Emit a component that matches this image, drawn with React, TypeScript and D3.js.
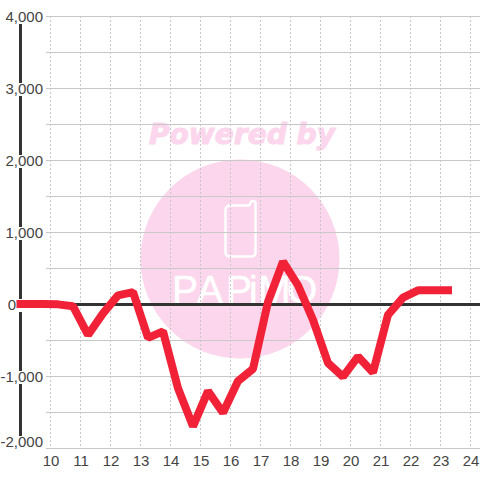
import React from "react";
import * as d3 from "d3";

const hours = [9, 9.25, 9.75, 10.25, 10.75, 11.25, 11.75, 12.25, 12.75, 13.25, 13.75, 14.25, 14.75, 15.25, 15.75, 16.25, 16.75, 17.25, 17.75, 18.25, 18.75, 19.25, 19.75, 20.25, 20.75, 21.25, 21.75, 22.25, 22.75, 23.25];
const values = [0, 0, 0, -5, -30, -430, -130, 120, 165, -470, -380, -1170, -1700, -1210, -1510, -1070, -900, 30, 590, 260, -220, -820, -1010, -730, -950, -150, 90, 190, 190, 190];
const xTicks = [10, 11, 12, 13, 14, 15, 16, 17, 18, 19, 20, 21, 22, 23, 24];
const yLabels = [4000, 3000, 2000, 1000, 0, -1000, -2000];
const yGrid = [4000, 3500, 3000, 2500, 2000, 1500, 1000, 500, -500, -1000, -1500, -2000];

const x = d3.scaleLinear().domain([10, 24]).range([50.5, 470.5]);
const y = d3.scaleLinear().domain([-2000, 4000]).range([448, 16]);

const INK = "#444444";
const AXIS = "#333333";
const FONT = "'Liberation Sans', Arial, sans-serif";

function labelY(v: number) {
  return v === -2000 ? y(v) - 7 : y(v);
}

export default function App() {
  const line = d3.line<number>().x((_, i) => x(hours[i])).y((d) => y(d));
  return (
    <svg width={480} height={480} style={{ position: "fixed", left: 0, top: 0, background: "#fff" }}>
      <circle cx={240} cy={259} r={99.5} fill="#fbd6ec" />
      <text x={242} y={144} textAnchor="middle" fontFamily="'DejaVu Sans'" fontWeight="bold" fontStyle="italic" fontSize={28} fill="#fbd6ec" stroke="#fbd6ec" strokeWidth={1} textLength={186} lengthAdjust="spacingAndGlyphs">Powered by</text>
      <path d="M231 205.5 H248 Q250 205.5 250.5 203 Q251 201 253 201 Q255.5 201 255.5 203.5 V252 Q255.5 256.5 251 256.5 H230 Q225.5 256.5 225.5 252 V210 Q225.5 205.5 231 205.5 Z" fill="none" stroke="#fff" strokeWidth={2.5} />
      <text x="172 197 226 249 258 287" y={303} fontFamily="'Liberation Sans Narrow', 'Liberation Sans'" fontSize={39} fill="#fff" stroke="#fff" strokeWidth={0.5}>PAPiMO</text>
      {yGrid.map((v) => (
        <line key={v} x1={46} x2={480} y1={y(v)} y2={y(v)} stroke="#c8c8c8" strokeWidth={1} shapeRendering="crispEdges" />
      ))}
      {xTicks.map((t) => (
        <line key={t} x1={x(t)} x2={x(t)} y1={16} y2={448} stroke="#c8c8c8" strokeWidth={1} strokeDasharray="2 2" shapeRendering="crispEdges" />
      ))}
      <line x1={20.5} x2={20.5} y1={24} y2={436} stroke={AXIS} strokeWidth={3} shapeRendering="crispEdges" />
      <line x1={20} x2={480} y1={y(0)} y2={y(0)} stroke={AXIS} strokeWidth={3} shapeRendering="crispEdges" />
      {yLabels.map((v) => (
        <rect key={v} x={3} y={labelY(v) - 5} width={40} height={13} fill="#fff" />
      ))}
      <path d={line(values) ?? ""} fill="none" stroke="#f12238" strokeWidth={8} strokeLinejoin="bevel" strokeLinecap="square" />
      {yLabels.map((v) => (
        <text key={v} x={v === 0 ? 16 : 43} y={labelY(v) + 6} textAnchor="end" fontFamily={FONT} fontSize={15} fill={INK}>{d3.format(",")(v).replace("−", "-")}</text>
      ))}
      {xTicks.map((t) => (
        <text key={t} x={x(t) + 0.5} y={466} textAnchor="middle" fontFamily={FONT} fontSize={15} fill={INK}>{t}</text>
      ))}
    </svg>
  );
}
